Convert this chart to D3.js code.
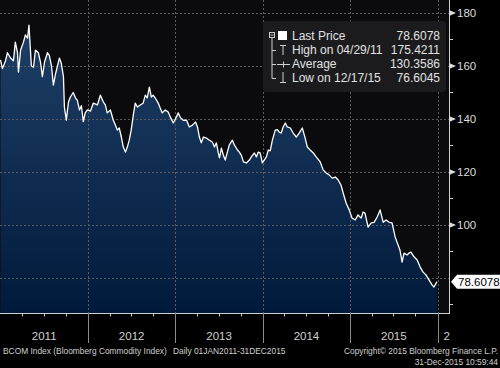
<!DOCTYPE html>
<html>
<head>
<meta charset="utf-8">
<script src="https://cdn.jsdelivr.net/npm/d3@7"></script>
<style>
body { margin: 0; background: #000; }
text { font-family: "Liberation Sans", Arial, sans-serif; }
</style>
</head>
<body>
<svg id="chart" width="500" height="368"></svg>
<script>
// dates as decimal years, prices
var dates = [
    2011.000, 2011.023, 2011.057, 2011.080, 2011.114, 2011.149, 2011.171, 2011.194, 2011.206, 2011.229,
    2011.263, 2011.286, 2011.309, 2011.326, 2011.354, 2011.377, 2011.400, 2011.434, 2011.457, 2011.480,
    2011.503, 2011.537, 2011.560, 2011.583, 2011.606, 2011.629, 2011.651, 2011.674, 2011.697, 2011.720,
    2011.731, 2011.754, 2011.777, 2011.800, 2011.834, 2011.857, 2011.880, 2011.903, 2011.926, 2011.949,
    2011.971, 2011.994, 2012.029, 2012.063, 2012.109, 2012.143, 2012.177, 2012.200, 2012.223, 2012.257,
    2012.291, 2012.314, 2012.337, 2012.360, 2012.383, 2012.406, 2012.429, 2012.451, 2012.474, 2012.497,
    2012.520, 2012.543, 2012.566, 2012.600, 2012.634, 2012.657, 2012.680, 2012.703, 2012.726, 2012.749,
    2012.771, 2012.806, 2012.829, 2012.851, 2012.886, 2012.920, 2012.943, 2012.977, 2013.011, 2013.034,
    2013.057, 2013.091, 2013.126, 2013.160, 2013.194, 2013.229, 2013.251, 2013.274, 2013.297, 2013.320,
    2013.354, 2013.389, 2013.423, 2013.446, 2013.469, 2013.491, 2013.503, 2013.526, 2013.549, 2013.571,
    2013.594, 2013.617, 2013.651, 2013.674, 2013.709, 2013.731, 2013.754, 2013.777, 2013.811, 2013.846,
    2013.869, 2013.903, 2013.926, 2013.949, 2013.971, 2013.994, 2014.017, 2014.040, 2014.063, 2014.086,
    2014.109, 2014.143, 2014.166, 2014.189, 2014.211, 2014.234, 2014.257, 2014.280, 2014.314, 2014.349,
    2014.383, 2014.417, 2014.451, 2014.486, 2014.509, 2014.543, 2014.577, 2014.611, 2014.657, 2014.691,
    2014.726, 2014.760, 2014.794, 2014.829, 2014.863, 2014.897, 2014.920, 2014.954, 2014.989, 2015.023,
    2015.057, 2015.091, 2015.126, 2015.149, 2015.171, 2015.206, 2015.240, 2015.274, 2015.309, 2015.343,
    2015.377, 2015.411, 2015.446, 2015.480, 2015.514, 2015.549, 2015.571, 2015.594, 2015.617, 2015.651,
    2015.674, 2015.697, 2015.731, 2015.766, 2015.800, 2015.834, 2015.869, 2015.903, 2015.937, 2015.959,
    2015.995
];
var prices = [
    162.3, 159.0, 162.0, 165.0, 163.0, 162.0, 169.0, 165.0, 157.7, 166.0,
    169.0, 171.7, 170.5, 175.4, 160.0, 159.6, 166.0, 165.0, 161.5, 156.0,
    161.5, 165.0, 164.0, 160.0, 152.8, 157.0, 160.0, 163.0, 161.0, 156.0,
    144.5, 139.6, 146.4, 148.3, 150.0, 148.0, 147.0, 143.4, 145.0, 139.0,
    142.3, 143.4, 143.0, 146.0, 145.3, 149.0, 146.4, 145.3, 142.3, 143.4,
    139.6, 137.7, 135.8, 136.6, 133.2, 129.4, 127.5, 129.4, 132.0, 135.8,
    141.5, 146.0, 144.5, 145.3, 146.0, 149.0, 148.0, 152.0, 148.3, 149.0,
    148.0, 146.0, 144.0, 142.3, 143.4, 142.6, 140.8, 138.5, 140.8, 142.3,
    140.5, 139.5, 139.6, 137.0, 137.7, 138.9, 137.0, 133.2, 131.0, 133.2,
    132.8, 132.0, 131.3, 129.4, 131.0, 127.2, 125.3, 129.0, 126.4, 124.5,
    127.5, 130.2, 132.0, 130.2, 128.3, 127.5, 126.4, 123.8, 123.4, 124.5,
    125.7, 127.2, 125.7, 127.5, 127.2, 123.4, 124.5, 125.7, 128.3, 128.0,
    132.0, 135.8, 136.0, 135.0, 134.7, 137.0, 138.5, 137.0, 136.6, 134.7,
    133.2, 134.7, 136.6, 132.8, 129.4, 128.3, 127.2, 125.7, 123.8, 120.8,
    119.6, 118.9, 117.7, 118.1, 117.0, 115.0, 112.0, 108.3, 105.7, 102.6,
    101.9, 103.8, 102.6, 104.9, 104.5, 99.2, 100.8, 101.0, 103.0, 105.7,
    101.0, 101.9, 101.0, 100.8, 95.5, 92.5, 90.6, 86.0, 89.4, 88.7,
    89.4, 89.8, 88.0, 86.8, 84.2, 82.3, 81.1, 79.2, 77.4, 76.6,
    78.6
];

var yearLabels = ["2011", "2012", "2013", "2014", "2015", "2"];
var majorTicks = [180, 160, 140, 120, 100, 80];
var minorTicks = [170, 150, 130, 110, 90, 70];
var lastPrice = 78.6078;

var legendLabels = ["Last Price", "High on 04/29/11", "Average", "Low on 12/17/15"];
var legendValues = ["78.6078", "175.4211", "130.3586", "76.6045"];

var footerLeft = ["BCOM Index (Bloomberg Commodity Index)", "Daily 01JAN2011-31DEC2015"];
var footerRight = ["Copyright\u00a9 2015 Bloomberg Finance L.P.", "31-Dec-2015 10:59:44"];

var plotW = 449, plotH = 313;
var svg = d3.select("#chart");

function toDate(t) {
    var yr = Math.floor(t);
    return new Date(yr, 0, 1 + Math.round((t - yr) * 365));
}
var data = dates.map(function (t, i) { return { date: toDate(t), price: prices[i] }; });

var x = d3.scaleTime()
    .domain([new Date(2011, 0, 1), new Date(2016, 1, 18)])
    .range([0.5, plotW]);
var y = d3.scaleLinear()
    .domain([66.79, 184.9])
    .range([plotH, 0]);

var grad = svg.append("defs").append("linearGradient")
    .attr("id", "fill").attr("gradientUnits", "userSpaceOnUse")
    .attr("x1", 0).attr("y1", 0).attr("x2", 0).attr("y2", plotH);
grad.append("stop").attr("offset", 0).attr("stop-color", "#21426a");
grad.append("stop").attr("offset", 1).attr("stop-color", "#011a3b");

svg.append("rect")
    .attr("width", plotW).attr("height", plotH)
    .attr("fill", "#0b0b0e");

svg.append("path")
    .datum(data)
    .attr("fill", "url(#fill)")
    .attr("d", d3.area()
        .x(function (d) { return x(d.date); })
        .y0(plotH)
        .y1(function (d) { return y(d.price); }));

// dotted grid
var yearStarts = d3.range(2012, 2017).map(function (yr) { return new Date(yr, 0, 1); });
svg.selectAll(".hgrid")
    .data(majorTicks)
    .enter().append("line")
    .attr("x1", 0).attr("x2", plotW)
    .attr("y1", function (d) { return Math.round(y(d)) + 0.5; })
    .attr("y2", function (d) { return Math.round(y(d)) + 0.5; })
    .attr("stroke", "#5c5c5c").attr("stroke-dasharray", "2,2");
svg.selectAll(".vgrid")
    .data(yearStarts)
    .enter().append("line")
    .attr("y1", 0).attr("y2", plotH)
    .attr("x1", function (d) { return Math.round(x(d)) + 0.5; })
    .attr("x2", function (d) { return Math.round(x(d)) + 0.5; })
    .attr("stroke", "#5c5c5c").attr("stroke-dasharray", "2,2");

svg.append("path")
    .datum(data)
    .attr("fill", "none")
    .attr("stroke", "#fff")
    .attr("stroke-width", 1.3)
    .attr("stroke-linejoin", "round")
    .attr("d", d3.line()
        .x(function (d) { return x(d.date); })
        .y(function (d) { return y(d.price); }));

// legend box
var lg = svg.append("g");
lg.append("rect")
    .attr("x", 263).attr("y", 21).attr("width", 183).attr("height", 71)
    .attr("rx", 3).attr("fill", "#1b1b1d");
var rowY = [36, 50, 64, 78];
lg.selectAll(".lab")
    .data(legendLabels)
    .enter().append("text")
    .attr("x", 292).attr("y", function (d, i) { return rowY[i]; })
    .attr("dy", "0.35em").attr("font-size", 12).attr("fill", "#e2e2e2")
    .text(function (d) { return d; });
lg.selectAll(".val")
    .data(legendValues)
    .enter().append("text")
    .attr("x", 440).attr("y", function (d, i) { return rowY[i]; })
    .attr("dy", "0.35em").attr("font-size", 12).attr("fill", "#e2e2e2")
    .attr("text-anchor", "end")
    .text(function (d) { return d; });
var ic = "#cfcfcf";
lg.append("rect").attr("x", 269.5).attr("y", 32.5).attr("width", 5).attr("height", 5)
    .attr("fill", "none").attr("stroke", ic);
lg.append("line").attr("x1", 270.5).attr("x2", 273.5).attr("y1", 35).attr("y2", 35).attr("stroke", ic);
lg.append("rect").attr("x", 278).attr("y", 31).attr("width", 9).attr("height", 9).attr("fill", "#fff");
lg.append("line").attr("x1", 272).attr("x2", 272).attr("y1", 38).attr("y2", 78.5).attr("stroke", ic);
[50, 64, 78].forEach(function (r) {
    lg.append("line").attr("x1", 272).attr("x2", 276).attr("y1", r + 0.5).attr("y2", r + 0.5).attr("stroke", ic);
});
lg.append("path").attr("d", "M280,45.5H286M283,45.5V55").attr("stroke", ic).attr("fill", "none");
lg.append("path").attr("d", "M277,64.5H290M283.5,61.5V67.5").attr("stroke", ic).attr("fill", "none");
lg.append("path").attr("d", "M283,72V82.5M280,82.5H286").attr("stroke", ic).attr("fill", "none");

// right axis
svg.append("line")
    .attr("x1", plotW + 0.5).attr("x2", plotW + 0.5).attr("y1", 0).attr("y2", plotH + 1)
    .attr("stroke", "#cfcfcf");
svg.selectAll(".minor")
    .data(minorTicks)
    .enter().append("line")
    .attr("x1", plotW).attr("x2", plotW + 4)
    .attr("y1", function (d) { return Math.round(y(d)) + 0.5; })
    .attr("y2", function (d) { return Math.round(y(d)) + 0.5; })
    .attr("stroke", "#cfcfcf");
svg.selectAll(".tri")
    .data(majorTicks.slice(0, 5))
    .enter().append("path")
    .attr("d", function (d) { var v = y(d); return "M" + plotW + "," + (v - 3) + "L" + (plotW + 7) + "," + v + "L" + plotW + "," + (v + 3) + "Z"; })
    .attr("fill", "#dcdcdc");
svg.selectAll(".rlab")
    .data(majorTicks.slice(0, 5))
    .enter().append("text")
    .attr("x", plotW + 8).attr("y", function (d) { return y(d); })
    .attr("dy", "0.36em").attr("font-size", 11.5).attr("fill", "#dcdcdc")
    .text(function (d) { return d; });

// last price tag
var ly = y(lastPrice);
svg.append("path")
    .attr("d", "M451," + ly + "L457," + (ly - 7) + "H500V" + (ly + 7) + "H457Z")
    .attr("fill", "#fff");
svg.append("text")
    .attr("x", 458).attr("y", ly).attr("dy", "0.36em")
    .attr("font-size", 11.5).attr("fill", "#000")
    .text(lastPrice.toFixed(4));

// bottom axis
svg.append("line")
    .attr("x1", 0).attr("x2", plotW + 1).attr("y1", plotH + 0.5).attr("y2", plotH + 0.5)
    .attr("stroke", "#cfcfcf");
var quarters = d3.timeMonth.every(3).range(new Date(2011, 0, 1), new Date(2016, 0, 2))
    .filter(function (d) { return d.getMonth() !== 0; });
svg.selectAll(".qt")
    .data(quarters)
    .enter().append("line")
    .attr("x1", function (d) { return Math.round(x(d)) + 0.5; })
    .attr("x2", function (d) { return Math.round(x(d)) + 0.5; })
    .attr("y1", plotH).attr("y2", plotH + 3.5)
    .attr("stroke", "#cfcfcf");
svg.selectAll(".yd")
    .data(yearStarts)
    .enter().append("line")
    .attr("x1", function (d) { return Math.round(x(d)) + 0.5; })
    .attr("x2", function (d) { return Math.round(x(d)) + 0.5; })
    .attr("y1", plotH).attr("y2", 343)
    .attr("stroke", "#8a8a8a");
svg.selectAll(".yl")
    .data(yearLabels)
    .enter().append("text")
    .attr("x", function (d, i) {
        if (i === 5) return x(new Date(2016, 0, 1)) + 6;
        return (x(new Date(2011 + i, 0, 1)) + x(new Date(2012 + i, 0, 1))) / 2;
    })
    .attr("y", 340)
    .attr("text-anchor", function (d, i) { return i === 5 ? "start" : "middle"; })
    .attr("font-size", 11.5).attr("fill", "#d0d0d0")
    .text(function (d) { return d; });

// footer
svg.append("text").attr("x", 3).attr("y", 353.5)
    .attr("font-size", 8.4).attr("fill", "#cfcfcf").text(footerLeft[0]);
svg.append("text").attr("x", 173).attr("y", 353.5)
    .attr("font-size", 8.4).attr("fill", "#cfcfcf").text(footerLeft[1]);
svg.selectAll(".fr")
    .data(footerRight)
    .enter().append("text")
    .attr("x", 498).attr("y", function (d, i) { return 353.5 + i * 11; })
    .attr("text-anchor", "end")
    .attr("font-size", 8.4).attr("fill", "#cfcfcf")
    .text(function (d) { return d; });
</script>
</body>
</html>
